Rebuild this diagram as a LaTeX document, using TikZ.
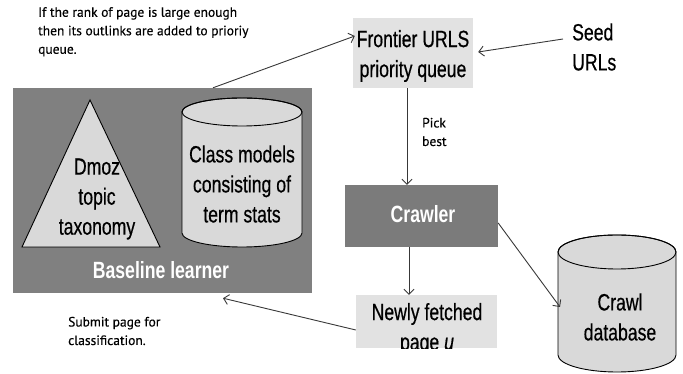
\documentclass[tikz,border=0pt]{standalone}
\usepackage{fontspec}
\usetikzlibrary{arrows.meta}
\newfontfamily\boxfont[FakeStretch=0.75, FakeBold=0.5]{Liberation Sans}
\newfontfamily\boxbold[FakeStretch=0.75]{Liberation Sans}
\newfontfamily\notefont[FakeBold=0.3]{PT Sans}
\definecolor{darkfill}{HTML}{808080}
\definecolor{crawlfill}{HTML}{7B7B7B}
\definecolor{lightfill}{HTML}{E2E2E2}
\definecolor{shapefill}{HTML}{D9D9D9}
\definecolor{linecol}{HTML}{383838}
\tikzset{
  x=1pt, y=1pt,
  bigtext/.style={font=\boxfont\fontsize{23.5}{30}\selectfont, align=center, inner sep=0pt, text=black},
  whitetext/.style={font=\boxbold\bfseries\fontsize{23.5}{30}\selectfont, text=white, inner sep=0pt},
  notetext/.style={font=\notefont\fontsize{13.5}{18.5}\selectfont, align=left, inner sep=0pt, text=black},
  lightbox/.style={fill=lightfill, draw=none, inner sep=0pt},
  darkbox/.style={draw=none, inner sep=0pt},
  shapeline/.style={draw=black, line width=0.9pt, fill=shapefill},
  arr/.style={draw=linecol, line width=0.9pt, -{Straight Barb[length=5pt,width=10pt]}},
}
\begin{document}
\begin{tikzpicture}
\useasboundingbox (0,0) rectangle (683,374);

% baseline learner block
\node[darkbox, fill=darkfill, minimum width=299, minimum height=205] (baseline) at (162.5,183.5) {};
\node[whitetext] (baselinelabel) at (161,104) {Baseline learner};

% topic taxonomy triangle
\path[shapeline] (90,274) -- (160,127) -- (22,127) -- cycle;
\node[bigtext] (dmoz) at (97,175) {Dmoz\\topic\\taxonomy};

% class model store
\path[shapeline] (182,262) -- (182,141) arc[start angle=180, end angle=360, x radius=60, y radius=14] -- (302,262) arc[start angle=0, end angle=180, x radius=60, y radius=14] -- cycle;
\draw[black, line width=0.9pt] (242,262) ellipse[x radius=60, y radius=14];
\node[bigtext] (classmodels) at (242,190) {Class models\\consisting of\\term stats};

% frontier queue
\node[lightbox, minimum width=120, minimum height=70] (frontier) at (413,321) {};
\node[bigtext] (frontiertext) at (413,318) {Frontier URLS\\priority queue};

% seed URLs
\node[bigtext, align=left, anchor=west] (seed) at (572,327) {Seed\\URLs};

% crawler
\node[darkbox, fill=crawlfill, minimum width=153, minimum height=62] (crawler) at (421.5,158) {};
\node[whitetext] (crawlertext) at (423,160) {Crawler};

% newly fetched page, its second line cut off by the box edge
\node[lightbox, minimum width=141, minimum height=53] (newly) at (426.5,52.5) {};
\begin{scope}
  \clip (newly.south west) rectangle (newly.north east);
  \node[bigtext] (newlytext) at (427,45) {Newly fetched\\page \textit{u}};
\end{scope}

% crawl database
\path[shapeline] (558,122) -- (558,19) arc[start angle=180, end angle=360, x radius=59, y radius=17] -- (676,122) arc[start angle=0, end angle=180, x radius=59, y radius=17] -- cycle;
\draw[black, line width=0.9pt] (617,122) ellipse[x radius=59, y radius=17];
\node[bigtext] (crawldb) at (620,57) {Crawl\\database};
\coordinate (dbin) at (560,67);

% notes
\node[notetext, anchor=north west] (rankNote) at (38,367) {If the rank of page is large enough\\then its outlinks are added to prioriy\\queue.};
\node[notetext, anchor=west] (submitNote) at (68,43) {Submit page for\\classification.};
\node[notetext, anchor=west] (pickNote) at (422,242) {Pick\\best};

% connectors
\draw[arr] ([xshift=-6]frontier.south) -- ([xshift=-6]frontier.south |- crawler.north);
\draw[arr] ([xshift=-12.5]crawler.south) -- ([xshift=-12.5]crawler.south |- newly.north);
\draw[arr] ([yshift=-7]crawler.east) -- (dbin);
\draw[arr] ([shift={(-9,8)}]seed.west) -- ([shift={(5,1)}]frontier.east);
\draw[arr] ([xshift=50.5]baseline.north) -- ([shift={(2,17)}]frontier.west);
\draw[arr] ([yshift=-8.5]newly.west) -- ([shift={(60.5,-5)}]baseline.south);
\end{tikzpicture}
\end{document}
